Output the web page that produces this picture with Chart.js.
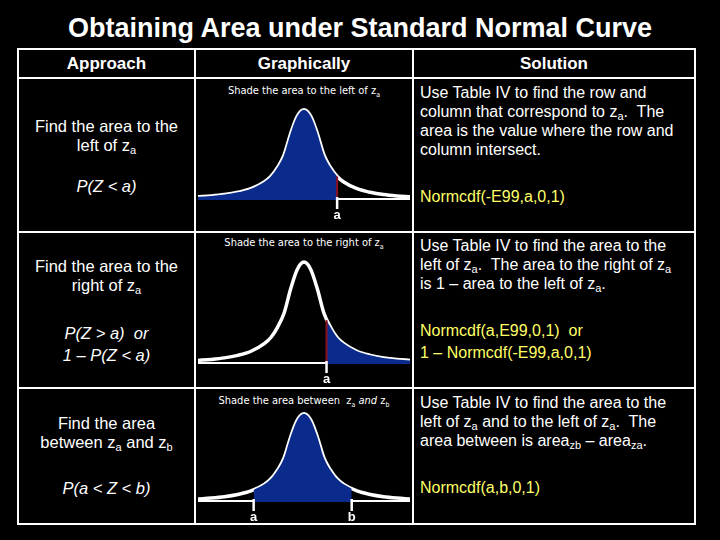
<!DOCTYPE html>
<html><head><meta charset="utf-8">
<script src="https://cdn.jsdelivr.net/npm/chart.js@4/dist/chart.umd.min.js"></script>
<style>
body{margin:0;background:#000;width:720px;height:540px;overflow:hidden;font-family:"Liberation Sans",Arial,sans-serif;color:#fff}
.t{position:absolute;white-space:nowrap;line-height:19px}
.c{text-align:center}
.y{color:#ffff66}
.line{position:absolute;background:#fff}
.cv{position:absolute}
sub{font-size:11px;vertical-align:-3px;line-height:0}
.cap{position:absolute;font-size:11px;font-family:"DejaVu Sans Condensed","Liberation Sans Narrow",sans-serif;text-align:center;width:218px}
</style></head><body>
<div class="t c" style="left:0;width:720px;top:12px;font-size:27px;font-weight:bold;line-height:32px">Obtaining Area under Standard Normal Curve</div>
<div class="line" style="left:17px;top:48px;width:679px;height:2px"></div>
<div class="line" style="left:17px;top:77px;width:679px;height:2px"></div>
<div class="line" style="left:17px;top:231px;width:679px;height:2px"></div>
<div class="line" style="left:17px;top:387px;width:679px;height:2px"></div>
<div class="line" style="left:17px;top:523px;width:679px;height:2px"></div>
<div class="line" style="left:17px;top:48px;width:2px;height:477px"></div>
<div class="line" style="left:194px;top:48px;width:2px;height:477px"></div>
<div class="line" style="left:412px;top:48px;width:2px;height:477px"></div>
<div class="line" style="left:694px;top:48px;width:2px;height:477px"></div>
<div class="t c" style="left:19px;width:175px;top:54px;font-size:17px;font-weight:bold">Approach</div>
<div class="t c" style="left:196px;width:216px;top:54px;font-size:17px;font-weight:bold">Graphically</div>
<div class="t c" style="left:414px;width:280px;top:54px;font-size:17px;font-weight:bold">Solution</div>
<div class="t c" style="left:19px;width:175px;top:117px;font-size:16.5px">Find the area to the<br>left of z<sub>a</sub></div>
<div class="t c" style="left:19px;width:175px;top:177px;font-size:16.5px;font-style:italic">P(Z &lt; a)</div>
<div class="t c" style="left:19px;width:175px;top:257px;font-size:16.5px">Find the area to the<br>right of z<sub>a</sub></div>
<div class="t c" style="left:19px;width:175px;top:322px;font-size:16.5px;font-style:italic;line-height:22px">P(Z &gt; a)&nbsp; or<br>1 – P(Z &lt; a)</div>
<div class="t c" style="left:19px;width:175px;top:414px;font-size:16.5px">Find the area<br>between z<sub>a</sub> and z<sub>b</sub></div>
<div class="t c" style="left:19px;width:175px;top:479px;font-size:16.5px;font-style:italic">P(a &lt; Z &lt; b)</div>
<div class="t" style="left:420px;top:83px;font-size:16px">Use Table IV to find the row and<br>column that correspond to z<sub>a</sub>.&nbsp; The<br>area is the value where the row and<br>column intersect.</div>
<div class="t y" style="left:420px;top:187px;font-size:16px">Normcdf(-E99,a,0,1)</div>
<div class="t" style="left:420px;top:236px;font-size:16px">Use Table IV to find the area to the<br>left of z<sub>a</sub>.&nbsp; The area to the right of z<sub>a</sub><br>is 1 – area to the left of z<sub>a</sub>.</div>
<div class="t y" style="left:420px;top:320px;font-size:16px;line-height:22px">Normcdf(a,E99,0,1)&nbsp; or<br>1 – Normcdf(-E99,a,0,1)</div>
<div class="t" style="left:420px;top:393px;font-size:16px">Use Table IV to find the area to the<br>left of z<sub>a</sub> and to the left of z<sub>a</sub>.&nbsp; The<br>area between is area<sub>zb</sub> – area<sub>za</sub>.</div>
<div class="t y" style="left:420px;top:478px;font-size:16px">Normcdf(a,b,0,1)</div>
<div class="cap" style="left:195px;top:84px">Shade the area to the left of z<sub style="font-size:7px">a</sub></div>
<div class="cap" style="left:195px;top:236px">Shade the area to the right of z<sub style="font-size:7px">a</sub></div>
<div class="cap" style="left:195px;top:394px">Shade the area between&nbsp; z<sub style="font-size:7px">a</sub> <i>and</i> z<sub style="font-size:7px">b</sub></div>
<canvas id="c1" class="cv" style="left:198px;top:104px;width:212px;height:118px"></canvas>
<canvas id="c2" class="cv" style="left:198px;top:256px;width:212px;height:130px"></canvas>
<canvas id="c3" class="cv" style="left:198px;top:408px;width:212px;height:116px"></canvas>
<script>
const curveX = [-4,-3.5,-3,-2.5,-2,-1.5,-1.25,-1,-0.75,-0.5,-0.25,0,0.25,0.5,0.75,1,1.25,1.5,2,2.5,3,3.5,4];
const curveY = [0.035,0.045,0.06,0.085,0.125,0.2,0.26,0.36,0.5,0.74,0.93,1,0.93,0.74,0.5,0.36,0.26,0.2,0.125,0.085,0.06,0.045,0.035];
const shade1 = {from:-4, to:1.25, yFrom:0.035, yTo:0.26, labels:["a"]};
const shade2 = {from:0.85, to:4, yFrom:0.43, yTo:0.035, labels:["a"]};
const shade3 = {from:-1.9, to:1.8, yFrom:0.135, yTo:0.15, labels:["a","b"]};

function region(s){
  const pts=[{x:s.from,y:s.yFrom}];
  curveX.forEach((x,i)=>{ if(x>s.from && x<s.to) pts.push({x:x,y:curveY[i]}); });
  pts.push({x:s.to,y:s.yTo});
  return pts;
}
const marker={id:'marker',afterDatasetsDraw(ch){
  const s=ch.options.plugins.marker.s, red=ch.options.plugins.marker.red;
  const xs=ch.scales.x, ys=ch.scales.y, ctx=ch.ctx;
  const cuts = s.labels.length===2?[[s.from,s.yFrom],[s.to,s.yTo]]:[[red==='l'?s.to:s.from, red==='l'?s.yTo:s.yFrom]];
  cuts.forEach((c,i)=>{
    const px=xs.getPixelForValue(c[0]);
    if(s.labels.length===1){
      ctx.strokeStyle='#8b1020';ctx.lineWidth=2;ctx.beginPath();
      ctx.moveTo(px,ys.getPixelForValue(0));ctx.lineTo(px,ys.getPixelForValue(c[1]));ctx.stroke();
    }
    ctx.strokeStyle='#fff';ctx.lineWidth=2.5;ctx.beginPath();
    ctx.moveTo(px,ys.getPixelForValue(0)-3);ctx.lineTo(px,ys.getPixelForValue(0)+9);ctx.stroke();
    ctx.fillStyle='#fff';ctx.font='bold 13px "Liberation Sans Narrow",sans-serif';ctx.textAlign='center';
    ctx.fillText(s.labels[i],px,ys.getPixelForValue(0)+19);
  });
}};
function make(id,s,red){
  const curve=curveX.map((x,i)=>({x:x,y:curveY[i]}));
  new Chart(document.getElementById(id),{type:'line',
    data:{datasets:[
      {data:region(s),borderWidth:0,pointRadius:0,fill:'origin',backgroundColor:'#0a2a8c',cubicInterpolationMode:'monotone'},
      {data:curve,borderColor:'#fff',borderWidth:3.5,pointRadius:0,fill:false,cubicInterpolationMode:'monotone'},
      {data:[{x:-4,y:0},{x:4,y:0}],borderColor:'#fff',borderWidth:4,pointRadius:0,fill:false}
    ]},
    options:{responsive:false,animation:false,events:[],
      layout:{padding:{left:0,right:0,top:4,bottom:22}},
      plugins:{legend:{display:false},tooltip:{enabled:false},marker:{s:s,red:red}},
      scales:{x:{type:'linear',min:-4,max:4,display:false},y:{min:0,max:1.02,display:false}}},
    plugins:[marker]});
}
make('c1',shade1,'l');
make('c2',shade2,'r');
make('c3',shade3,'b');
</script>
</body></html>
